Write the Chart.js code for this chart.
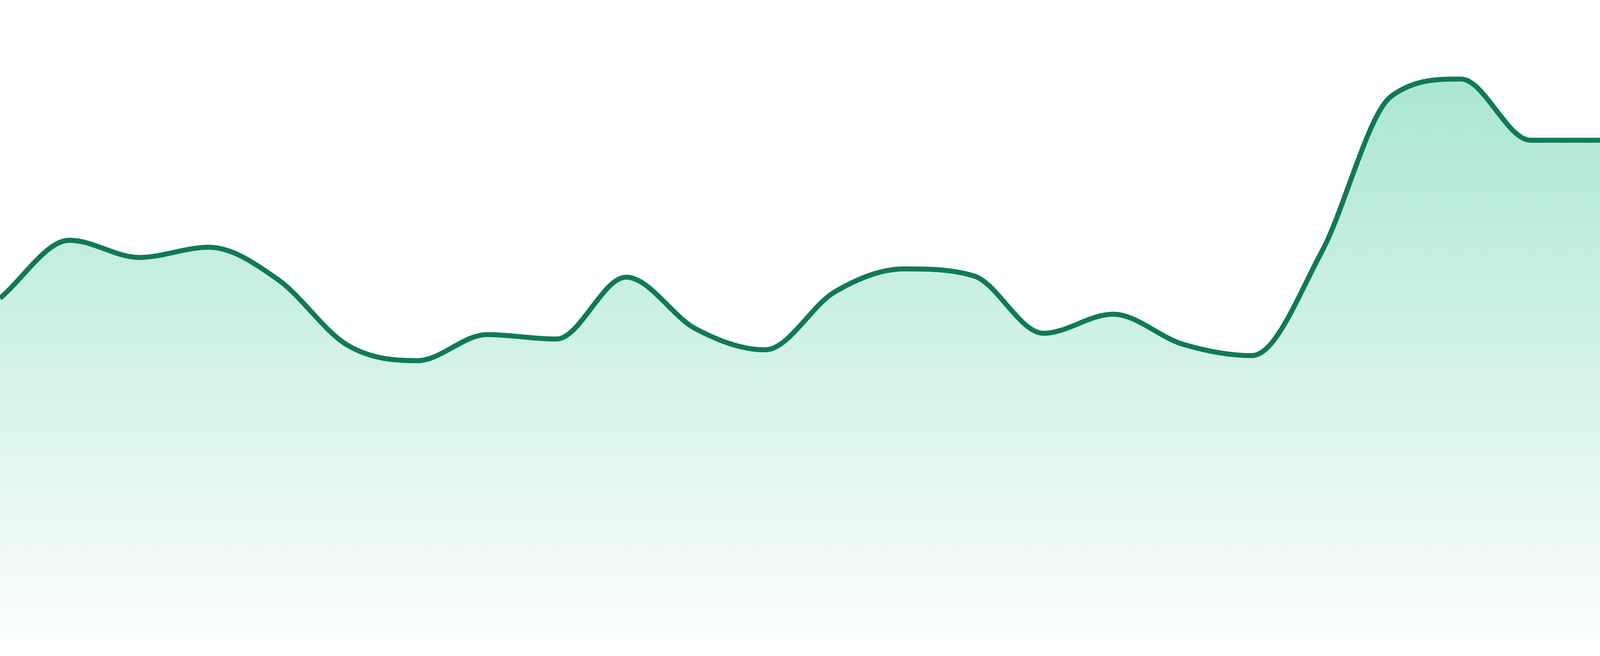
<!DOCTYPE html>
<html lang="en">
<head>
    <meta charset="UTF-8">
    <title>Trend</title>
    <script src="https://cdn.jsdelivr.net/npm/chart.js"></script>
    <style>
        html, body {
            margin: 0;
            padding: 0;
            overflow: hidden;
            background: #ffffff;
        }
        .wrap {
            position: relative;
            width: 100vw;
            height: 100vh;
        }
    </style>
</head>
<body>
    <div class="wrap">
        <canvas id="trendChart"></canvas>
    </div>
    <script>
        // 24 evenly spaced samples
        const labels = ["1", "2", "3", "4", "5", "6", "7", "8", "9", "10", "11", "12",
                        "13", "14", "15", "16", "17", "18", "19", "20", "21", "22", "23", "24"];
        const values = [53.2, 62.3, 59.6, 61.2, 56.1, 45.8, 43.4, 47.5, 46.8, 56.5, 48.4, 45.1,
                        54.2, 57.8, 56.7, 47.7, 50.7, 46.0, 44.2, 60.5, 84.9, 87.6, 78.0, 78.0];
        const yMin = 0;
        const yMax = 100;

        // the reference was drawn at 4800x1680; scale sizes to whatever the viewport is
        const sx = window.innerWidth / 4800;
        const sy = window.innerHeight / 1680;

        function areaGradient(context) {
            const chart = context.chart;
            const area = chart.chartArea;
            if (!area) return "rgba(16, 185, 129, 0.2)";
            const g = chart.ctx.createLinearGradient(0, area.top, 0, area.bottom);
            g.addColorStop(0, "rgba(16, 185, 129, 0.40)");
            g.addColorStop(1, "rgba(16, 185, 129, 0.02)");
            return g;
        }

        const ctx = document.getElementById("trendChart").getContext("2d");
        new Chart(ctx, {
            type: "line",
            data: {
                labels: labels,
                datasets: [{
                    data: values,
                    borderColor: "#117a52",
                    borderWidth: 15 * sx,
                    backgroundColor: areaGradient,
                    fill: "start",
                    pointRadius: 0,
                    pointHoverRadius: 0,
                    cubicInterpolationMode: "monotone"
                }]
            },
            options: {
                responsive: true,
                maintainAspectRatio: false,
                animation: false,
                layout: { padding: { left: 0, right: 0, top: 0, bottom: 48 * sy } },
                plugins: {
                    legend: { display: false },
                    tooltip: { enabled: false }
                },
                scales: {
                    x: { display: false, offset: false },
                    y: { display: false, min: yMin, max: yMax }
                }
            }
        });
    </script>
</body>
</html>
